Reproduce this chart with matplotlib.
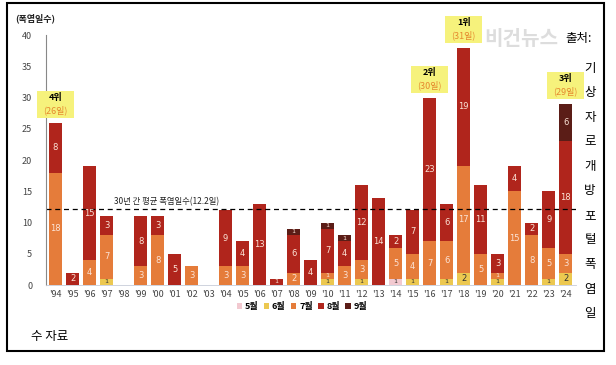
import matplotlib.pyplot as plt
from matplotlib.patches import Rectangle
import numpy as np

plt.rcParams['font.family'] = ['Noto Sans CJK KR', 'DejaVu Sans']

# heatwave days per month, 1994-2024
years = ["'94", "'95", "'96", "'97", "'98", "'99", "'00", "'01", "'02", "'03",
         "'04", "'05", "'06", "'07", "'08", "'09", "'10", "'11", "'12", "'13",
         "'14", "'15", "'16", "'17", "'18", "'19", "'20", "'21", "'22", "'23", "'24"]
may = [0, 0, 0, 0, 0, 0, 0, 0, 0, 0, 0, 0, 0, 0, 0, 0, 0, 0, 0, 0,
       1, 0, 0, 0, 0, 0, 0, 0, 0, 0, 0]
june = [0, 0, 0, 1, 0, 0, 0, 0, 0, 0, 0, 0, 0, 0, 0, 0, 1, 0, 1, 0,
        0, 1, 0, 1, 2, 0, 1, 0, 0, 1, 2]
july = [18, 0, 4, 7, 0, 3, 8, 0, 3, 0, 3, 3, 0, 0, 2, 0, 1, 3, 3, 0,
        5, 4, 7, 6, 17, 5, 1, 15, 8, 5, 3]
aug = [8, 2, 15, 3, 0, 8, 3, 5, 0, 0, 9, 4, 13, 1, 6, 4, 7, 4, 12, 14,
       2, 7, 23, 6, 19, 11, 3, 4, 2, 9, 18]
sep = [0, 0, 0, 0, 0, 0, 0, 0, 0, 0, 0, 0, 0, 0, 1, 0, 1, 1, 0, 0,
       0, 0, 0, 0, 0, 0, 0, 0, 0, 0, 6]
month_names = ['5월', '6월', '7월', '8월', '9월']
colors = ['#f2c9d0', '#ecc850', '#e57c3a', '#b0251c', '#5b1d17']
label_colors = ['#333333', '#333333', '#fbe3d6', '#fbe3d6', '#fbe3d6']

# top-4 years
rank_years = ["'94", "'16", "'18", "'24"]
rank_text = ['4위', '2위', '1위', '3위']
rank_days = ['(26일)', '(30일)', '(31일)', '(29일)']
avg_days = 12.2

fig = plt.figure(figsize=(6.16, 3.65), dpi=100)
ax = fig.add_axes([0.075, 0.219, 0.86, 0.685])

x = np.arange(len(years))
series = [may, june, july, aug, sep]
bottom = np.zeros(len(years))
for vals, col, lcol, name in zip(series, colors, label_colors, month_names):
    vals = np.array(vals)
    ax.bar(x, vals, 0.78, bottom=bottom, color=col, label=name, linewidth=0)
    for xi, v, b in zip(x, vals, bottom):
        if v > 0:
            # small segments get a smaller label so they don't collide
            ax.text(xi, b + v / 2, str(v), ha='center', va='center',
                    fontsize=6 if v > 1 else 4.6, color=lcol,
                    family='DejaVu Sans')
    bottom += vals
totals = bottom

# average line
ax.axhline(avg_days, color='black', linestyle=(0, (4, 3)), linewidth=0.9)
ax.text(6.5, avg_days + 0.4, '30년 간 평균 폭염일수(12.2일)', ha='center',
        va='bottom', fontsize=6, color='#222222')

# ranking boxes
for yr, rt, rd in zip(rank_years, rank_text, rank_days):
    i = years.index(yr)
    yb = totals[i] + 0.8
    ax.add_patch(Rectangle((i - 1.1, yb), 2.2, 4.3, color='#f6f27c',
                           clip_on=False, zorder=3, linewidth=0))
    ax.text(i, yb + 3.2, rt, ha='center', va='center', fontsize=6.5,
            fontweight='bold', color='black', zorder=4, clip_on=False)
    ax.text(i, yb + 1.2, rd, ha='center', va='center', fontsize=6.5,
            color='#e58a2e', zorder=4, clip_on=False)

ax.set_xlim(-0.55, 30.6)
ax.set_ylim(0, 40)
ax.set_yticks(range(0, 41, 5))
ax.set_xticks(x)
ax.set_xticklabels(years)
ax.tick_params(axis='both', length=0, labelsize=6.5, colors='#444444')
ax.tick_params(axis='y', pad=10)
ax.spines['top'].set_visible(False)
ax.spines['right'].set_visible(False)
ax.spines['left'].set_color('#888888')
ax.spines['left'].set_linewidth(0.8)
ax.spines['bottom'].set_color('#c8ccd8')
ax.spines['bottom'].set_linewidth(0.6)

fig.text(0.025, 0.95, '(폭염일수)', fontsize=6.5, fontweight='bold',
         color='#222222', va='center')

ax.legend(loc='center', bbox_to_anchor=(0.49, 0.159),
          bbox_transform=fig.transFigure, ncol=5, frameon=False,
          handlelength=0.6, handleheight=0.6,
          handletextpad=0.3, columnspacing=0.6,
          prop={'weight': 'bold', 'size': 6.5})

# watermark
fig.text(0.847, 0.895, '비건뉴스', fontsize=14.5, fontweight='bold',
         color='#d8d8d8', alpha=0.85, ha='center', va='center')

# source text that wraps down the right side
fig.text(0.918, 0.895, '출처:', fontsize=9, color='black', va='center')
source_chars = list('기상자로개방포털폭염일')
for k, ch in enumerate(source_chars):
    fig.text(0.958, 0.813 - k * 0.0672, ch, fontsize=9, color='black',
             ha='center', va='center')
fig.text(0.05, 0.077, '수 자료', fontsize=9, color='black', va='center')

# outer frame
fig.add_artist(Rectangle((7 / 616, 1 - 351 / 365), 597 / 616, 348 / 365,
                         transform=fig.transFigure, fill=False,
                         edgecolor='black', linewidth=1.5))

fig.savefig('out.png', dpi=100)
